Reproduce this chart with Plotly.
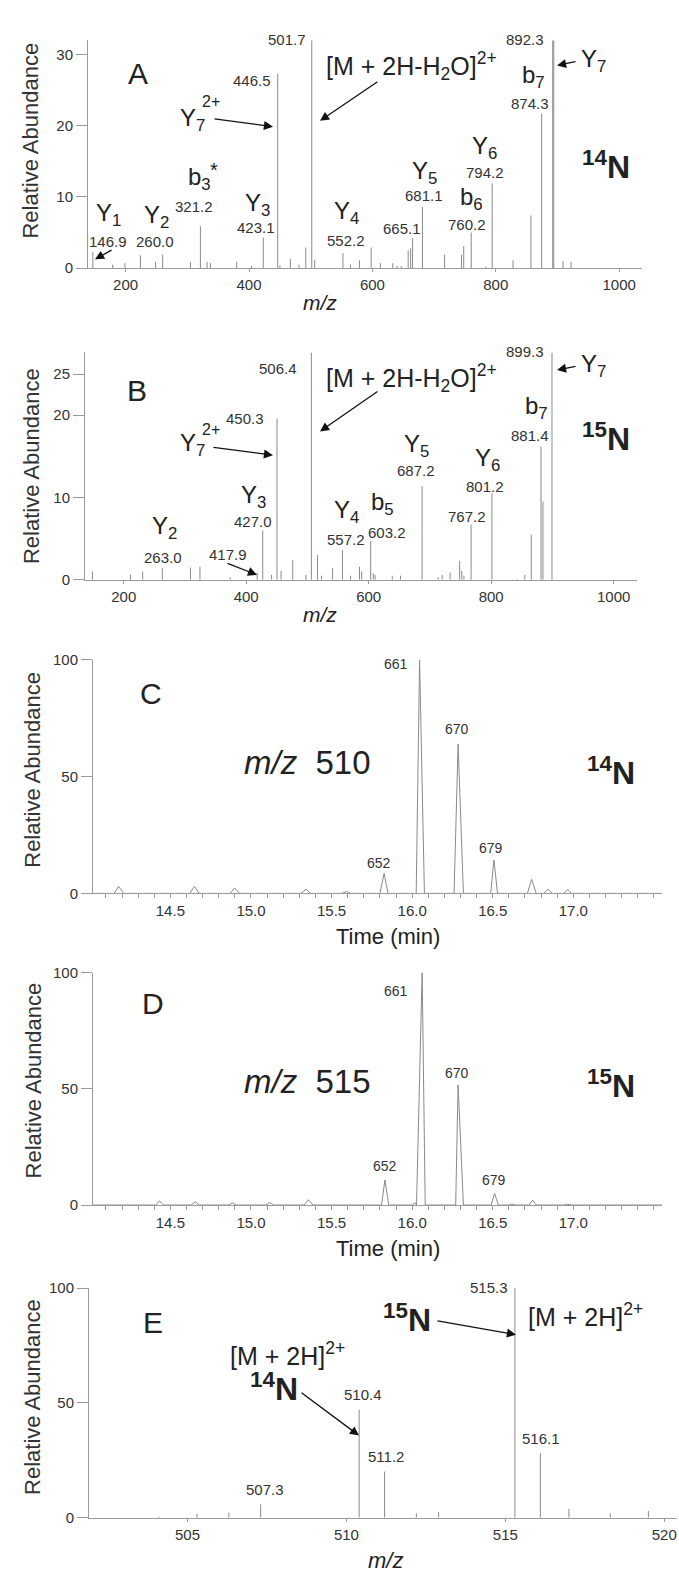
import plotly.graph_objects as go

W, H = 679, 1587
FONT = "Liberation Sans, Arial, Helvetica, sans-serif"

# ---------------- data ----------------
# Panel A: MS/MS spectrum (14N), m/z and relative abundance
mz_A = [146.9, 179, 199, 224, 248.5, 260.0, 305, 321.2, 332, 337.5, 380, 404, 423.1,
        446.5, 450, 467, 481, 492, 501.7, 506.5, 552.2, 564.5, 579, 598, 613, 633, 640,
        647, 658, 662, 665.1, 681.1, 717, 744.5, 748, 760.2, 784, 794.2, 828, 857,
        874.3, 892.3, 894.0, 909, 922]
ab_A = [2.3, 0.5, 0.7, 1.8, 0.9, 1.9, 0.9, 5.9, 0.9, 0.7, 0.9, 0.3, 4.3,
        27.3, 0.4, 1.3, 0.5, 2.9, 32.0, 1.2, 2.1, 0.5, 1.1, 2.9, 0.7, 0.7, 0.3,
        0.3, 2.5, 2.8, 4.2, 8.6, 1.9, 1.9, 3.1, 5.0, 0.2, 11.9, 1.1, 7.4,
        21.7, 32.0, 32.0, 1.0, 0.9]

# Panel B: MS/MS spectrum (15N)
mz_B = [149, 211, 231, 263.0, 309, 324.5, 374, 417.9, 427.0, 441.5, 450.3, 457, 476,
        497.5, 506.4, 516.5, 523, 541, 557.2, 570.5, 585, 588.5, 603.2, 607.5, 610.5,
        638.5, 652, 687.2, 713.5, 720, 733, 748.5, 752, 755.5, 767.2, 801.2, 842.5,
        855, 865.5, 881.4, 884.5, 899.3]
ab_B = [1.0, 0.65, 1.0, 1.4, 1.5, 1.6, 0.3, 0.9, 6.0, 0.6, 19.6, 1.1, 2.4,
        0.6, 27.6, 3.0, 0.5, 1.4, 3.6, 0.5, 1.6, 1.0, 4.7, 0.8, 0.6,
        0.5, 0.5, 11.4, 0.3, 0.6, 0.9, 2.3, 1.1, 0.5, 6.7, 10.5, 0.1,
        0.6, 5.5, 16.2, 9.5, 27.6]

# Panel C: chromatogram m/z 510 (trace vertices)
t_C = [14.01, 14.15, 14.179, 14.21, 14.62, 14.649, 14.68, 14.87, 14.899, 14.93,
       15.31, 15.342, 15.37, 15.565, 15.592, 15.62, 15.80, 15.826, 15.85,
       16.025, 16.046, 16.076, 16.26, 16.285, 16.318, 16.487, 16.507, 16.53,
       16.715, 16.741, 16.77, 16.815, 16.842, 16.87, 16.94, 16.964, 16.99, 17.55]
i_C = [0, 0, 3.0, 0, 0, 3.0, 0, 0, 2.3, 0,
       0, 1.8, 0, 0, 0.8, 0, 0, 8.6, 0,
       0, 100, 0, 0, 64, 0, 0, 14.3, 0,
       0, 6.1, 0, 0, 1.8, 0, 0, 1.6, 0, 0]

# Panel D: chromatogram m/z 515 (trace vertices)
t_D = [14.01, 14.15, 14.174, 14.20, 14.41, 14.432, 14.46, 14.63, 14.654, 14.68,
       14.86, 14.885, 14.91, 15.09, 15.117, 15.14, 15.33, 15.356, 15.385,
       15.81, 15.831, 15.855, 16.0, 16.021, 16.027, 16.062, 16.081,
       16.27, 16.285, 16.318, 16.49, 16.511, 16.535, 16.60, 16.619, 16.64,
       16.725, 16.747, 16.77, 16.94, 16.964, 16.99, 17.55]
i_D = [0, 0, 0.3, 0, 0, 1.8, 0, 0, 1.4, 0,
       0, 0.9, 0, 0, 1.1, 0, 0, 2.3, 0,
       0, 10.8, 0, 0, 1.0, 0, 100, 0,
       0, 51.7, 0, 0, 5.0, 0, 0, 0.4, 0,
       0, 2.1, 0, 0, 0.3, 0, 0]

# Panel E: full-scan spectrum around the precursor ions
mz_E = [504.1, 505.3, 506.3, 507.3, 510.4, 511.2, 512.2, 512.9, 515.3, 516.1, 517.0, 518.3, 519.5]
ab_E = [0.5, 1.7, 2.2, 5.8, 47.0, 20.1, 1.9, 2.4, 100, 28.1, 3.9, 1.9, 2.9]

ticks_A = [200, 400, 600, 800, 1000]
ticks_yA = [0, 10, 20, 30]
ticks_yB = [0, 10, 20, 25]
ticks_t = [14.5, 15.0, 15.5, 16.0, 16.5, 17.0]
ticks_t_lbl = ["14.5", "15.0", "15.5", "16.0", "16.5", "17.0"]
ticks_E = [505, 510, 515, 520]
ticks_y100 = [0, 50, 100]


def sticks(xs, ys):
    X, Y = [], []
    for a, b in zip(xs, ys):
        X += [a, a, None]
        Y += [0, b, None]
    return X, Y


def dom_x(p0, p1):
    return [p0 / W, p1 / W]


def dom_y(top, bottom):
    return [1 - bottom / H, 1 - top / H]


fig = go.Figure()
PEAK = dict(color="#8a8a8a", width=1)
xa, ya = sticks(mz_A, ab_A)
fig.add_trace(go.Scatter(x=xa, y=ya, mode="lines", line=PEAK, xaxis="x", yaxis="y", hoverinfo="skip"))
xb, yb = sticks(mz_B, ab_B)
fig.add_trace(go.Scatter(x=xb, y=yb, mode="lines", line=PEAK, xaxis="x2", yaxis="y2", hoverinfo="skip"))
fig.add_trace(go.Scatter(x=t_C, y=i_C, mode="lines", line=PEAK, xaxis="x3", yaxis="y3", hoverinfo="skip"))
fig.add_trace(go.Scatter(x=t_D, y=i_D, mode="lines", line=PEAK, xaxis="x4", yaxis="y4", hoverinfo="skip"))
xe, ye = sticks(mz_E, ab_E)
fig.add_trace(go.Scatter(x=xe, y=ye, mode="lines", line=PEAK, xaxis="x5", yaxis="y5", hoverinfo="skip"))

AX = "#9a9a9a"
TF = dict(family=FONT, size=15, color="#333")


def xaxis(domain, rng, anchor, tickvals, ticktext=None, minor=None, ticklen=4):
    d = dict(domain=domain, range=rng, anchor=anchor, showline=True, linecolor=AX, linewidth=1,
             showgrid=False, zeroline=False, tickmode="array", tickvals=tickvals,
             ticks="outside", ticklen=ticklen, tickcolor=AX, tickfont=TF, fixedrange=True)
    if ticktext is not None:
        d["ticktext"] = ticktext
    if minor is not None:
        d["minor"] = minor
    return d


def yaxis(domain, rng, anchor, tickvals):
    return dict(domain=domain, range=rng, anchor=anchor, showline=True, linecolor=AX, linewidth=1,
                showgrid=False, zeroline=False, tickmode="array", tickvals=tickvals,
                ticks="outside", ticklen=11, tickcolor=AX, tickfont=TF, fixedrange=True)


minor_t = dict(dtick=0.1, ticks="outside", ticklen=4, tickcolor=AX, showgrid=False)

layout = dict(
    width=W, height=H, margin=dict(l=0, r=0, t=0, b=0), showlegend=False,
    paper_bgcolor="white", plot_bgcolor="white", font=dict(family=FONT, color="#222"),
    xaxis=xaxis(dom_x(88, 642), [139, 1037], "y", ticks_A, ticklen=3),
    yaxis=yaxis(dom_y(31.6, 262), [0, 32], "x", ticks_yA),
    xaxis2=xaxis(dom_x(85, 637), [136.8, 1038.1], "y2", ticks_A, ticklen=3),
    yaxis2=yaxis(dom_y(347, 577), [0, 27.65], "x2", ticks_yB),
    xaxis3=xaxis(dom_x(93, 662), [14.02, 17.55], "y3", ticks_t, ticks_t_lbl, minor_t),
    yaxis3=yaxis(dom_y(658, 894), [0, 100], "x3", ticks_y100),
    xaxis4=xaxis(dom_x(93, 662), [14.02, 17.55], "y4", ticks_t, ticks_t_lbl, minor_t),
    yaxis4=yaxis(dom_y(974, 1209), [0, 100], "x4", ticks_y100),
    xaxis5=xaxis(dom_x(89, 677), [501.9, 520.4], "y5", ticks_E, ticklen=3),
    yaxis5=yaxis(dom_y(1293, 1525), [0, 100], "x5", ticks_y100),
)

ann = []


def txt(text, px, py, size=15, xanchor="center", color="#222", angle=0):
    ann.append(dict(text=text, x=px / W, y=1 - py / H, xref="paper", yref="paper",
                    xanchor=xanchor, yanchor="middle", showarrow=False, textangle=angle,
                    font=dict(family=FONT, size=size, color=color)))


def arrow(tail, head):
    ann.append(dict(text="", x=head[0] / W, y=1 - head[1] / H, xref="paper", yref="paper",
                    ax=tail[0] - head[0], ay=tail[1] - head[1], showarrow=True,
                    arrowhead=2, arrowsize=1.4, arrowwidth=1.3, arrowcolor="#111",
                    standoff=0, startstandoff=0))


NUM = "#333"
ION = 24
BIG = 25
ISO = 32

# ---- Panel A ----
txt("A", 138, 65, 30)
txt("501.7", 308, 31, 15, "right", NUM)
txt("446.5", 273, 72, 15, "right", NUM)
txt("Y<sub>7</sub>", 192, 112, ION)
txt("2+", 200, 93, 16, "left")
arrow((213, 111), (273, 119))
txt("[M + 2H-H<sub>2</sub>O]<sup>2+</sup>", 324, 58, BIG, "left")
arrow((379, 73), (320, 113))
txt("892.3", 546, 31, 15, "right", NUM)
arrow((577, 53), (557, 57))
txt("Y<sub>7</sub>", 579, 52, ION, "left")
txt("b<sub>7</sub>", 533, 68, ION)
txt("874.3", 530, 96, 15, "center", NUM)
txt("<b><sup>14</sup>N</b>", 606, 158, ISO)
txt("Y<sub>6</sub>", 484, 140, ION)
txt("794.2", 485, 165, 15, "center", NUM)
txt("Y<sub>5</sub>", 424, 165, ION)
txt("681.1", 424, 189, 15, "center", NUM)
txt("b<sub>6</sub>", 471, 192, ION)
txt("760.2", 467, 218, 15, "center", NUM)
txt("665.1", 402, 222, 15, "center", NUM)
txt("Y<sub>4</sub>", 346, 206, ION)
txt("552.2", 346, 234, 15, "center", NUM)
txt("Y<sub>3</sub>", 257, 198, ION)
txt("423.1", 256, 221, 15, "center", NUM)
txt("b<sub>3</sub>", 199, 171, ION)
txt("*", 214, 163, 20)
txt("321.2", 194, 200, 15, "center", NUM)
txt("Y<sub>2</sub>", 156, 210, ION)
txt("260.0", 155, 235, 15, "center", NUM)
txt("Y<sub>1</sub>", 108, 208, ION)
txt("146.9", 108, 235, 15, "center", NUM)
arrow((113, 243), (95, 253))
txt("<i>m/z</i>", 320, 297, 21)
txt("Relative Abundance", 31, 133, 22, angle=-90, color="#333")

# ---- Panel B ----
txt("B", 137, 386, 30)
txt("506.4", 299, 363, 15, "right", NUM)
txt("450.3", 266, 414, 15, "right", NUM)
txt("Y<sub>7</sub>", 192, 440, ION)
txt("2+", 200, 425, 16, "left")
arrow((212, 443), (273, 451))
txt("[M + 2H-H<sub>2</sub>O]<sup>2+</sup>", 324, 373, BIG, "left")
arrow((379, 386), (320, 427))
txt("Y<sub>3</sub>", 253, 493, ION)
txt("427.0", 253, 518, 15, "center", NUM)
txt("Y<sub>2</sub>", 164, 524, ION)
txt("263.0", 163, 554, 15, "center", NUM)
txt("417.9", 228, 551, 15, "center", NUM)
arrow((226, 560), (257, 572))
txt("Y<sub>4</sub>", 346, 508, ION)
txt("557.2", 346, 536, 15, "center", NUM)
txt("b<sub>5</sub>", 382, 500, ION)
txt("603.2", 387, 529, 15, "center", NUM)
txt("Y<sub>5</sub>", 416, 441, ION)
txt("687.2", 416, 466, 15, "center", NUM)
txt("Y<sub>6</sub>", 487, 455, ION)
txt("801.2", 485, 483, 15, "center", NUM)
txt("767.2", 467, 513, 15, "center", NUM)
txt("b<sub>7</sub>", 536, 403, ION)
txt("881.4", 530, 431, 15, "center", NUM)
txt("899.3", 546, 346, 15, "right", NUM)
arrow((577, 361), (557, 365))
txt("Y<sub>7</sub>", 579, 360, ION, "left")
txt("<b><sup>15</sup>N</b>", 606, 433, ISO)
txt("<i>m/z</i>", 320, 612, 21)
txt("Relative Abundance", 31, 462, 22, angle=-90, color="#333")

# ---- Panel C ----
txt("C", 151, 692, 30)
txt("661", 396, 662, 14, "center", NUM)
txt("670", 457, 728, 14, "center", NUM)
txt("652", 379, 863, 14, "center", NUM)
txt("679", 491, 848, 14, "center", NUM)
txt("<i>m/z</i>\u00a0\u00a0510", 307, 762, 33)
txt("<b><sup>14</sup>N</b>", 611, 770, ISO)
txt("Time (min)", 388, 938, 22)
txt("Relative Abundance", 33, 769, 22, angle=-90, color="#333")

# ---- Panel D ----
txt("D", 153, 1005, 30)
txt("661", 396, 993, 14, "center", NUM)
txt("670", 457, 1076, 14, "center", NUM)
txt("652", 385, 1170, 14, "center", NUM)
txt("679", 494, 1184, 14, "center", NUM)
txt("<i>m/z</i>\u00a0\u00a0515", 307, 1084, 33)
txt("<b><sup>15</sup>N</b>", 611, 1087, ISO)
txt("Time (min)", 388, 1253, 22)
txt("Relative Abundance", 33, 1083, 22, angle=-90, color="#333")

# ---- Panel E ----
txt("E", 153, 1328, 30)
txt("515.3", 510, 1292, 15, "right", NUM)
txt("[M + 2H]<sup>2+</sup>", 526, 1320, BIG, "left")
txt("<b><sup>15</sup>N</b>", 407, 1323, ISO)
arrow((436, 1326), (516, 1340))
txt("[M + 2H]<sup>2+</sup>", 228, 1360, BIG, "left")
txt("<b><sup>14</sup>N</b>", 274, 1393, ISO)
arrow((300, 1398), (359, 1442))
txt("510.4", 363, 1400, 15, "center", NUM)
txt("511.2", 386, 1463, 15, "center", NUM)
txt("516.1", 541, 1445, 15, "center", NUM)
txt("507.3", 265, 1497, 15, "center", NUM)
txt("<i>m/z</i>", 385, 1568, 22)
txt("Relative Abundance", 33, 1403, 22, angle=-90, color="#333")

layout["annotations"] = ann
fig.update_layout(**layout)

fig.write_html("out.html", config={"displayModeBar": False},
               post_script="document.body.style.margin='0';")
